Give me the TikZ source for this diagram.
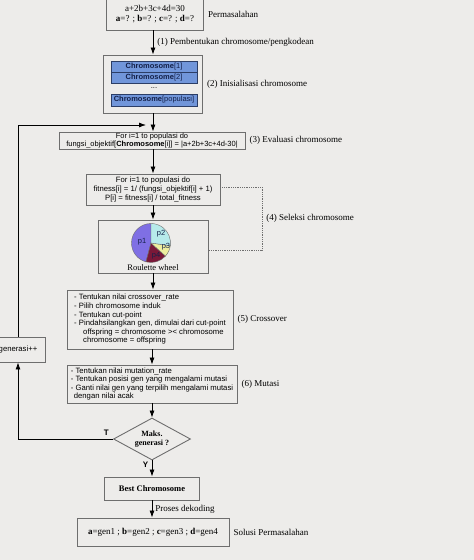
\documentclass[tikz,border=0pt]{standalone}
\usepackage{fontspec}
\setmainfont{Liberation Serif}
\setsansfont{Liberation Sans}
\usetikzlibrary{shapes,arrows.meta}

\definecolor{paper}{HTML}{EDECEA}
\definecolor{frame}{HTML}{6E6E6E}
\definecolor{chromfill}{HTML}{7196DA}
\definecolor{chromline}{HTML}{2C3E66}
\definecolor{chromtext}{HTML}{14214A}
\definecolor{pone}{HTML}{7F6FE4}
\definecolor{ptwo}{HTML}{B6EAEA}
\definecolor{pthree}{HTML}{EEEE9E}
\definecolor{pfour}{HTML}{7A1838}

\begin{document}
\begin{tikzpicture}[x=1pt,y=-1pt]
      \tikzstyle{point} = [coordinate]
      \tikzstyle{box} = [rectangle, draw=frame, line width=0.9pt, inner sep=1pt, align=center]
      \tikzstyle{sans} = [font=\sffamily\fontsize{7.7}{8.6}\selectfont]
      \tikzstyle{serif} = [font=\fontsize{9}{10.5}\selectfont]
      \tikzstyle{lbl} = [anchor=west, inner sep=0pt, xshift=4pt, text=black, font=\fontsize{9}{10}\selectfont]
      \tikzstyle{bar} = [rectangle, draw=chromline, fill=chromfill, line width=0.8pt, minimum width=86pt, inner sep=0pt, text=chromtext, font=\sffamily\fontsize{7.5}{8}\selectfont]
      \tikzstyle{flow} = [line width=0.8pt, -{Latex[length=7pt,width=5pt]}]
      \useasboundingbox [fill=paper] (0,0) rectangle (474,560);
      % main column
      \node (masalah) [box, serif, minimum width=97pt, minimum height=32pt] at (155,14) {a+2b+3c+4d=30\\ \textbf{a}=? ; \textbf{b}=? ; \textbf{c}=? ; \textbf{d}=?};
      \node (init) [box, minimum width=99pt, minimum height=58pt] at (153,84) {};
      \node (chrom1) [bar, minimum height=11pt] at (154,66.5) {\textbf{Chromosome}[1]};
      \node (chrom2) [bar, minimum height=11pt] at (154,77.5) {\textbf{Chromosome}[2]};
      \node (dots) [sans, inner sep=0pt] at (154,88) {...};
      \node (chromn) [bar, minimum height=12pt] at (154,100) {\textbf{Chromosome}[populasi]};
      \node (eval) [box, minimum width=186pt, minimum height=17pt, inner sep=0.5pt, font=\sffamily\fontsize{7.5}{7.6}\selectfont] at (152,140.5) {For i=1 to populasi do\\ fungsi\_objektif[\textbf{Chromosome}[i]] = |a+2b+3c+4d-30|};
      \node (fit) [box, sans, minimum width=134pt, minimum height=31pt] at (153,189.5) {For i=1 to populasi do\\ fitness[i] = 1/ (fungsi\_objektif[i] + 1)\\ P[i] = fitness[i] / total\_fitness};
      \node (roul) [box, minimum width=110pt, minimum height=53pt] at (153,246.5) {};
      \node (wheel) [inner sep=0pt, font=\fontsize{8.5}{9}\selectfont] at (153,268) {Roulette wheel};
      \node (cross) [box, sans, align=left, minimum width=166pt, minimum height=59pt] at (150,319.5) {- Tentukan nilai crossover\_rate\\ - Pilih chromosome induk\\ - Tentukan cut-point\\ - Pindahsilangkan gen, dimulai dari cut-point\\ \hspace*{9pt}offspring = chromosome >< chromosome\\ \hspace*{9pt}chromosome = offspring};
      \node (mut) [box, sans, align=left, minimum width=170pt, minimum height=38pt] at (152,384) {- Tentukan nilai mutation\_rate\\ - Tentukan posisi gen yang mengalami mutasi\\ - Ganti nilai gen yang terpilih mengalami mutasi\\ \hspace*{3pt}dengan nilai acak};
      \node (maks) [diamond, draw=frame, line width=0.9pt, aspect=1.8, minimum width=77pt, minimum height=42pt, inner sep=0pt, align=center, font=\bfseries\fontsize{8}{9}\selectfont] at (152,439) {Maks.\\ generasi ?};
      \node (best) [box, minimum width=95pt, minimum height=23pt, font=\bfseries\fontsize{8.5}{9}\selectfont] at (152,488.5) {Best Chromosome};
      \node (solusi) [box, serif, minimum width=152pt, minimum height=28pt] at (153,532) {\textbf{a}=gen1 ; \textbf{b}=gen2 ; \textbf{c}=gen3 ; \textbf{d}=gen4};
      \node (gen) [box, sans, minimum width=54pt, minimum height=25pt] at (18,349.5) {generasi++};
      % roulette wheel
      \begin{scope}[shift={(151,243)}, yscale=-1]
        \filldraw [fill=pone, draw=frame, line width=0.4pt] (0,0) -- (90:19.5) arc (90:255:19.5) -- cycle;
        \filldraw [fill=pfour, draw=frame, line width=0.4pt] (0,0) -- (255:19.5) arc (255:318:19.5) -- cycle;
        \filldraw [fill=pthree, draw=frame, line width=0.4pt] (0,0) -- (318:19.5) arc (318:352:19.5) -- cycle;
        \filldraw [fill=ptwo, draw=frame, line width=0.4pt] (0,0) -- (352:19.5) arc (352:450:19.5) -- cycle;
      \end{scope}
      \node (lp1) [font=\sffamily\fontsize{7.5}{8}\selectfont, text=chromtext, inner sep=0pt] at (142,242) {p1};
      \node (lp2) [font=\sffamily\fontsize{7.5}{8}\selectfont, text=chromtext, inner sep=0pt] at (161,234) {p2};
      \node (lp3) [font=\sffamily\fontsize{7.5}{8}\selectfont, text=chromtext, inner sep=0pt] at (166,247) {p3};
      \node (lp4) [font=\sffamily\fontsize{7.5}{8}\selectfont, text=chromtext, inner sep=0pt] at (156,256) {p4};
      % side labels
      \node (lmasalah) [lbl] at (masalah.east) {Permasalahan};
      \node (linit) [lbl] at (init.east) {(2) Inisialisasi chromosome};
      \node (leval) [lbl] at (eval.east) {(3) Evaluasi chromosome};
      \node (lcross) [lbl] at (cross.east) {(5) Crossover};
      \node (lmut) [lbl] at (mut.east) {(6) Mutasi};
      \node (lsolusi) [lbl] at (solusi.east) {Solusi Permasalahan};
      % arrows
      \draw [flow] (init.north |- masalah.south) -- node [lbl] {(1) Pembentukan chromosome/pengkodean} (init.north);
      \draw [flow] (init.south) -- (init.south |- eval.north);
      \draw [flow] (fit.north |- eval.south) -- (fit.north);
      \draw [flow] (fit.south) -- (roul.north);
      \draw [flow] (roul.south) -- (roul.south |- cross.north);
      \draw [flow] (mut.north |- cross.south) -- (mut.north);
      \draw [flow] (mut.south) -- (maks.north);
      \draw [flow] (maks.south) -- node [near start, left, font=\sffamily\bfseries\fontsize{8}{9}\selectfont] {Y} (best.north);
      \draw [flow] (best.south) -- node [lbl, xshift=-1pt] {Proses dekoding} (best.south |- solusi.north);
      % loop back
      \coordinate (loopin) at (146,125);
      \draw [flow] (gen.north) |- (loopin);
      \draw [flow] (maks.west) -- node [pos=0.07, above, font=\sffamily\bfseries\fontsize{8}{9}\selectfont] {T} (maks.west -| gen.south) -- (gen.south);
      % selection bracket
      \coordinate (selA) at (262,187);
      \coordinate (selB) at (262,250);
      \draw [densely dotted, frame, line width=0.8pt] (fit.east |- selA) -- (selA) -- node [lbl] {(4) Seleksi chromosome} (selB) -- (roul.east |- selB);
\end{tikzpicture}
\end{document}
